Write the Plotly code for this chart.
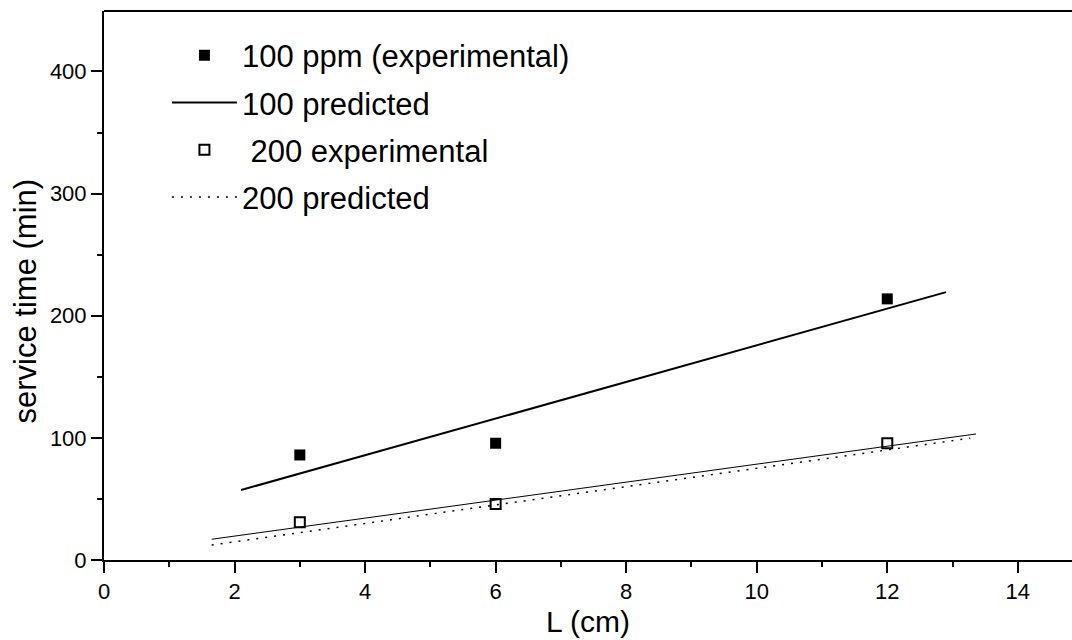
import plotly.graph_objects as go

# Data
L_exp = [3, 6, 12]
t100_exp = [86, 95.6, 213.8]
t200_exp = [30.9, 45.9, 95.6]

L100_pred = [2.1, 12.9]
t100_pred = [57.3, 219.3]

L200_fit = [1.65, 13.36]
t200_fit = [17.0, 103.2]

L200_pred = [1.65, 13.27]
t200_pred = [12.3, 99.7]

x_ticks = [0, 2, 4, 6, 8, 10, 12, 14]
y_ticks = [0, 100, 200, 300, 400]

FONT = "Liberation Sans, Arial, sans-serif"

fig = go.Figure()

fig.add_trace(go.Scatter(
    x=L_exp, y=t100_exp, mode="markers", name="100 ppm (experimental)",
    legendgroup="a",
    marker=dict(symbol="square", size=11, color="black"),
))
fig.add_trace(go.Scatter(
    x=L100_pred, y=t100_pred, mode="lines", name="100 predicted",
    legendgroup="b",
    line=dict(color="black", width=2),
))
fig.add_trace(go.Scatter(
    x=L_exp, y=t200_exp, mode="markers", name=" 200 experimental",
    legendgroup="c",
    marker=dict(symbol="square-open", size=10, color="black", line=dict(width=2)),
))
fig.add_trace(go.Scatter(
    x=L200_fit, y=t200_fit, mode="lines", showlegend=False,
    line=dict(color="black", width=1),
))
fig.add_trace(go.Scatter(
    x=L200_pred, y=t200_pred, mode="lines", name="200 predicted",
    legendgroup="d",
    line=dict(color="black", width=1.5, dash="2px,7px"),
))

fig.update_layout(
    width=1072, height=640,
    margin=dict(l=104, r=0, t=11, b=80),
    paper_bgcolor="white", plot_bgcolor="white",
    font=dict(family=FONT, color="black"),
    showlegend=True,
    legend=dict(
        x=0.065, y=0.968, xanchor="left", yanchor="top",
        font=dict(size=31, family=FONT),
        itemwidth=65, traceorder="grouped", tracegroupgap=4,
        bgcolor="rgba(0,0,0,0)",
    ),
    xaxis=dict(
        range=[0, 14.83], tickmode="array", tickvals=x_ticks,
        ticks="outside", ticklen=11, tickwidth=2, tickcolor="black",
        showline=True, linewidth=2, linecolor="black",
        showgrid=False, zeroline=False,
        tickfont=dict(size=22),
        minor=dict(dtick=1, ticks="outside", ticklen=5, tickwidth=2, tickcolor="black"),
    ),
    yaxis=dict(
        range=[0, 449.5], tickmode="array", tickvals=y_ticks,
        ticks="outside", ticklen=11, tickwidth=2, tickcolor="black",
        showline=True, linewidth=2, linecolor="black",
        showgrid=False, zeroline=False,
        tickfont=dict(size=22),
        minor=dict(dtick=50, ticks="outside", ticklen=5, tickwidth=2, tickcolor="black"),
    ),
    annotations=[
        dict(text="L (cm)", xref="paper", yref="paper", x=0.5, y=-0.112,
             xanchor="center", yanchor="middle", showarrow=False,
             font=dict(size=30, family=FONT)),
        dict(text="service time (min)", xref="paper", yref="paper", x=-0.081, y=0.472,
             xanchor="center", yanchor="middle", showarrow=False, textangle=-90,
             font=dict(size=31, family=FONT)),
    ],
    shapes=[dict(type="line", xref="paper", yref="paper", x0=0, x1=1, y0=1, y1=1,
                 line=dict(color="black", width=2))],
)

fig.write_html("out.html")
